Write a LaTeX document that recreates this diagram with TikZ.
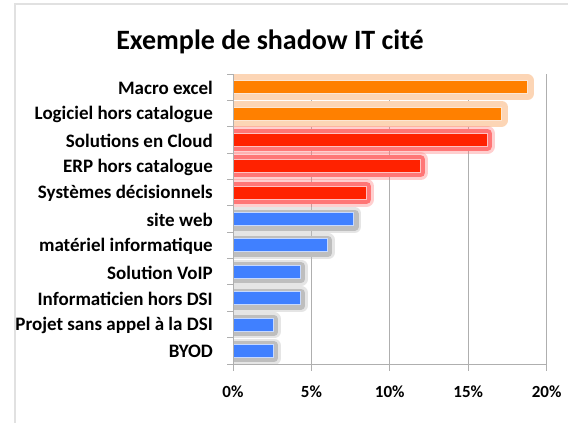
\documentclass[tikz,border=0pt]{standalone}
\usepackage{fontspec}
\setmainfont{Carlito}
\usetikzlibrary{positioning}
\definecolor{itorange}{RGB}{255,128,0}
\definecolor{itred}{RGB}{255,34,0}
\definecolor{itblue}{RGB}{64,128,255}
\definecolor{itpeach}{RGB}{252,213,181}
\definecolor{itpink}{RGB}{255,118,118}
\definecolor{itshade}{RGB}{190,190,190}
\definecolor{itgrid}{RGB}{175,175,175}
\definecolor{itframe}{RGB}{225,225,225}
\tikzset{
    barbase/.style={
        line width=0.8pt,inner sep=0pt,minimum height=13pt,anchor=west
    },
    orangebar/.style={
        barbase,fill=itorange,draw=itpeach!60!white,
        preaction={draw=itpeach,line width=13pt,line join=round}
    },
    redbar/.style={
        barbase,fill=itred,draw=itpink!45!white,
        preaction={draw=itpink,line width=15pt,line join=round,opacity=0.35},
        preaction={draw=itpink,line width=9pt,line join=round}
    },
    bluebar/.style={
        barbase,fill=itblue,draw=itblue!30!white,
        preaction={draw=itshade,line width=13pt,line join=round,opacity=0.4,
            transform canvas={xshift=1pt,yshift=-1pt}},
        preaction={draw=itshade,line width=8pt,line join=round,
            transform canvas={xshift=1pt,yshift=-1pt}}
    },
    catlabel/.style={
        inner sep=0pt,font=\fontsize{19}{22}\selectfont\bfseries,anchor=east
    },
    pctlabel/.style={
        inner sep=0pt,font=\fontsize{17}{20}\selectfont\bfseries
    },
    gridline/.style={draw=itgrid,line width=0.9pt}
}

\begin{document}
\begin{tikzpicture}[x=1pt,y=-1pt]
\useasboundingbox (0,0) rectangle (568,423);

% frame
\draw[itframe,line width=2pt] (14.5,423) -- (14.5,4) -- (568,4);

% title
\node[font=\fontsize{28}{33}\selectfont\bfseries]
(title) at (270,42) {Exemple de shadow IT cité};

% grid and axes
\foreach \k in {1,...,4}
  \draw[gridline] (233+\k*78.4,74) -- (233+\k*78.4,371);

% bars, glow kept right of the axis
\begin{scope}
\clip (233,70) rectangle (568,368);
\foreach \i/\val/\kind in {
    0/18.75/orangebar,1/17.1/orangebar,
    2/16.2/redbar,3/11.95/redbar,4/8.5/redbar,
    5/7.67/bluebar,6/5.97/bluebar,7/4.26/bluebar,
    8/4.26/bluebar,9/2.53/bluebar,10/2.53/bluebar}
  \node[\kind,minimum width=\val*15.68pt]
  (bar\i) at (233,87.2+\i*26.36) {};
\end{scope}

\draw[gridline] (233,74) -- (233,371);
\draw[gridline] (233,364) -- (547,364);
\foreach \j in {0,...,11}
  \draw[gridline] (227,74+\j*26.36) -- (233,74+\j*26.36);

% category names
\foreach \i/\txt in {
    0/Macro excel,
    1/Logiciel hors catalogue,
    2/Solutions en Cloud,
    3/ERP hors catalogue,
    4/Systèmes décisionnels,
    5/site web,
    6/matériel informatique,
    7/Solution VoIP,
    8/Informaticien hors DSI,
    9/Projet sans appel à la DSI,
    10/BYOD}
  \node[catlabel,left=20pt of bar\i.west,yshift=-1pt]
  (lab\i) {\txt};

% axis values
\foreach \k/\p in {0/0,1/5,2/10,3/15,4/20}
  \node[pctlabel] (pct\k) at (233+\k*78.4,392) {\p\%};

\end{tikzpicture}
\end{document}
